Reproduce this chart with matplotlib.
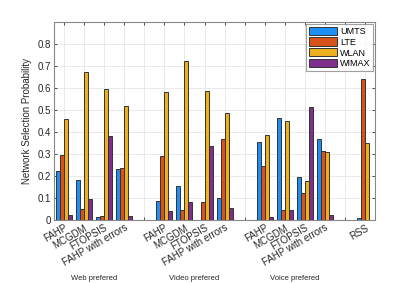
import numpy as np
import matplotlib
matplotlib.use("Agg")
import matplotlib.pyplot as plt

plt.rcParams['font.family'] = ['Liberation Sans', 'DejaVu Sans']

methods = ["FAHP", "MCGDM", "FTOPSIS", "FAHP with errors"]
groups = ["Web prefered", "Video prefered", "Voice prefered"]
networks = ["UMTS", "LTE", "WLAN", "WIMAX"]
colors = ["#1e90f5", "#d95319", "#edb120", "#7e2f8e"]

# rows: Web(4), gap, Video(4), gap, Voice(4), gap, RSS
umts = [0.224, 0.183, 0.012, 0.233, 0, 0.088, 0.156, 0.0, 0.098, 0,
        0.356, 0.464, 0.195, 0.367, 0, 0.009]
lte = [0.295, 0.050, 0.017, 0.235, 0, 0.291, 0.047, 0.080, 0.367, 0,
       0.247, 0.045, 0.121, 0.312, 0, 0.641]
wlan = [0.460, 0.671, 0.594, 0.518, 0, 0.583, 0.721, 0.586, 0.486, 0,
        0.388, 0.450, 0.176, 0.308, 0, 0.352]
wimax = [0.023, 0.097, 0.382, 0.017, 0, 0.042, 0.082, 0.338, 0.055, 0,
         0.015, 0.045, 0.515, 0.021, 0, 0.0]
xlabels = methods + [""] + methods + [""] + methods + [""] + ["RSS"]

fig = plt.figure(figsize=(4.15, 2.83), dpi=100)
ax = fig.add_axes([0.130, 0.2226, 0.774, 0.6996])

x = np.arange(1, len(umts) + 1)
w = 0.2
for i, (vals, c, name) in enumerate(zip([umts, lte, wlan, wimax], colors, networks)):
    ax.bar(x + (i - 1.5) * w, vals, w, color=c, edgecolor="#333333",
           linewidth=0.7, label=name, zorder=3)

ax.set_xlim(0.5, 16.5)
ax.set_ylim(0, 0.9)
ax.set_yticks(np.arange(0, 0.81, 0.1))
ax.set_yticklabels(["0"] + ["%.1f" % v for v in np.arange(0.1, 0.81, 0.1)], fontsize=7)
ax.set_xticks(x)
ax.set_xticklabels(xlabels, rotation=30, ha="right", rotation_mode="anchor", fontsize=7)
ax.tick_params(direction="in", top=True, right=True, length=2.5, width=0.6,
               colors="#333333", labelcolor="#262626", pad=2)
ax.grid(True, color="#e6e6e6", linewidth=0.6, zorder=0)
for s in ax.spines.values():
    s.set_color("#888888")
    s.set_linewidth(0.8)
ax.set_ylabel("Network Selection Probability", fontsize=7, color="#262626")

for gx, g in zip([2.5, 7.5, 12.5], groups):
    ax.text(gx, -0.265, g, ha="center", va="center", fontsize=5.5, color="#262626",
            transform=ax.transData, clip_on=False)

leg = ax.legend(loc="upper right", fontsize=6.5, frameon=True, fancybox=False,
                handlelength=3.2, handleheight=1.0, handletextpad=0.3,
                borderpad=0.3, labelspacing=0.2, borderaxespad=0.2)
leg.get_frame().set_edgecolor("#888888")
leg.get_frame().set_linewidth(0.8)

fig.savefig("out.png", dpi=100)
